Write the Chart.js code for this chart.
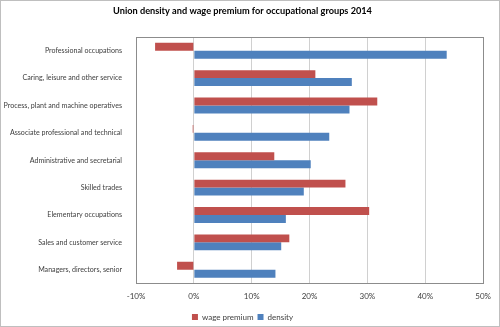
<!DOCTYPE html>
<html>
<head>
<meta charset="utf-8">
<script src="https://cdn.jsdelivr.net/npm/chart.js@4.4.0/dist/chart.umd.min.js"></script>
<style>
  body { margin: 0; background: #fff; }
  #wrap { width: 500px; height: 327px; box-sizing: border-box; border: 1px solid #bfbfbf; }
  #chart { display: block; }
</style>
</head>
<body>
<div id="wrap"><canvas id="chart" width="498" height="325"></canvas></div>
<script>
const categories = [
    'Professional occupations',
    'Caring, leisure and other service',
    'Process, plant and machine operatives',
    'Associate professional and technical',
    'Administrative and secretarial',
    'Skilled trades',
    'Elementary occupations',
    'Sales and customer service',
    'Managers, directors, senior'
];
const wagePremium = [-6.7, 21.0, 31.7, -0.2, 13.9, 26.2, 30.3, 16.5, -2.9];
const density = [43.7, 27.3, 26.9, 23.4, 20.2, 19.0, 15.9, 15.1, 14.1];
const xTicks = [-10, 0, 10, 20, 30, 40, 50];

const FONT = "'Lato', sans-serif";

// frame round the plot area, like the Excel original
const plotBorder = {
    id: 'plotBorder',
    afterDraw(chart) {
        const { ctx, chartArea: a } = chart;
        ctx.save();
        ctx.strokeStyle = '#8c8c8c';
        ctx.lineWidth = 1;
        ctx.strokeRect(Math.round(a.left) + 0.5, Math.round(a.top) + 0.5, Math.round(a.right - a.left), Math.round(a.bottom - a.top));
        ctx.restore();
    }
};

const ctx = document.getElementById('chart').getContext('2d');
const myChart = new Chart(ctx, {
    type: 'bar',
    data: {
        labels: categories,
        datasets: [{
            label: 'wage premium',
            data: wagePremium,
            backgroundColor: '#c0504d',
            borderWidth: 0
        }, {
            label: 'density',
            data: density,
            backgroundColor: '#4f81bd',
            borderWidth: 0
        }]
    },
    options: {
        indexAxis: 'y',
        responsive: false,
        animation: false,
        datasets: {
            bar: { categoryPercentage: 0.58, barPercentage: 1.0 }
        },
        layout: { padding: { left: 0, right: 15, top: 0, bottom: 3 } },
        scales: {
            x: {
                min: -10,
                max: 50,
                afterBuildTicks(axis) {
                    axis.ticks = xTicks.map(v => ({ value: v }));
                },
                grid: { color: '#d0d0d0', drawTicks: false },
                border: { display: false },
                ticks: {
                    color: '#404040',
                    padding: 8,
                    maxRotation: 0,
                    font: { family: FONT, size: 8 },
                    callback: v => v + '%'
                }
            },
            y: {
                grid: { display: false },
                border: { display: false },
                afterFit(axis) { axis.width = 135; },
                ticks: {
                    color: '#404040',
                    padding: 6,
                    font: { family: FONT, size: 7.1 }
                }
            }
        },
        plugins: {
            title: {
                display: true,
                text: 'Union density and wage premium for occupational groups 2014',
                color: '#000',
                font: { family: FONT, size: 9.2, weight: 'bold' },
                padding: { top: 5, bottom: 20 }
            },
            legend: {
                position: 'bottom',
                maxHeight: 14,
                labels: {
                    boxWidth: 6,
                    boxHeight: 6,
                    padding: 4,
                    color: '#404040',
                    font: { family: FONT, size: 8 }
                }
            },
            tooltip: { enabled: false }
        }
    },
    plugins: [plotBorder]
});
</script>
</body>
</html>
